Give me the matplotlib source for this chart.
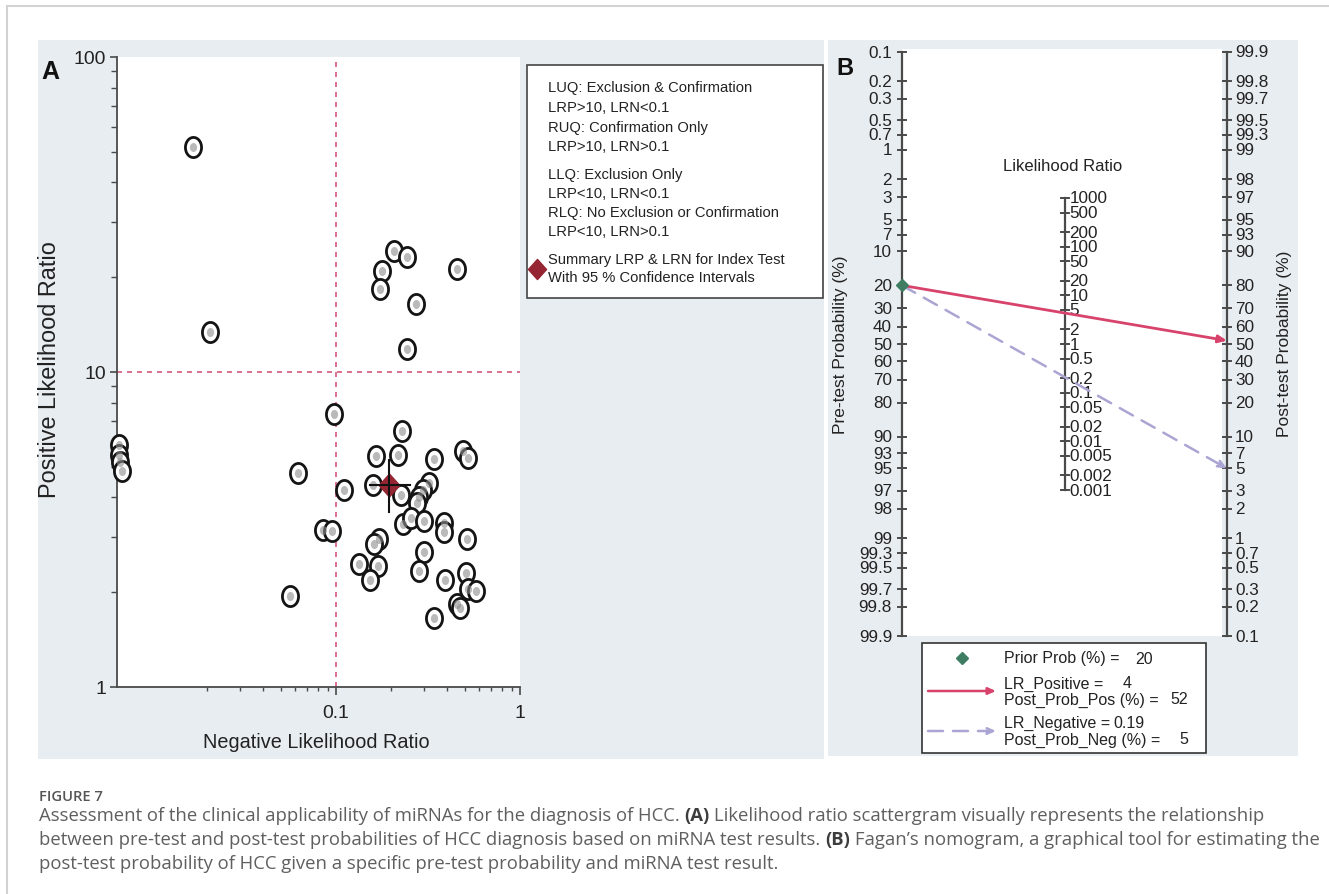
import numpy as np
import matplotlib
matplotlib.use("Agg")
import matplotlib.pyplot as plt
from matplotlib.path import Path
from matplotlib.patches import Rectangle
from matplotlib.ticker import NullFormatter
from matplotlib import font_manager as fm

# ---------------- data ----------------
# Panel A: study-level likelihood ratios
negative_lr = [0.0168, 0.0207, 0.207, 0.242, 0.177, 0.173, 0.453, 0.272, 0.244,
               0.098, 0.0624, 0.111, 0.229, 0.164, 0.216, 0.342, 0.488, 0.524,
               0.158, 0.225, 0.320, 0.298, 0.284, 0.277, 0.0853, 0.0955, 0.232,
               0.256, 0.301, 0.386, 0.386, 0.513, 0.172, 0.160, 0.302, 0.134,
               0.170, 0.153, 0.284, 0.391, 0.509, 0.524, 0.577, 0.456, 0.472,
               0.341, 0.0562, 0.00664, 0.00664, 0.00670, 0.00685]
positive_lr = [51.7, 13.4, 24.2, 23.2, 20.9, 18.4, 21.2, 16.4, 11.8,
               7.36, 4.77, 4.23, 6.48, 5.43, 5.45, 5.29, 5.63, 5.33,
               4.38, 4.08, 4.44, 4.22, 4.02, 3.84, 3.16, 3.13, 3.28,
               3.43, 3.37, 3.31, 3.11, 2.95, 2.95, 2.84, 2.68, 2.45,
               2.43, 2.19, 2.34, 2.19, 2.30, 2.04, 2.02, 1.83, 1.78,
               1.66, 1.95, 5.87, 5.45, 5.18, 4.86]
summary_lrn = 0.194
summary_lrn_ci = [0.153, 0.252]
summary_lrp = 4.38
summary_lrp_ci = [3.60, 5.27]
quadrant_text = ["LUQ: Exclusion & Confirmation", "LRP>10, LRN<0.1",
                 "RUQ: Confirmation Only", "LRP>10, LRN>0.1",
                 "LLQ: Exclusion Only", "LRP<10, LRN<0.1",
                 "RLQ: No Exclusion or Confirmation", "LRP<10, LRN>0.1",
                 "Summary LRP & LRN for Index Test", "With 95 % Confidence Intervals"]
a_xticks = [0.1, 1]
a_xticklabels = ["0.1", "1"]
a_yticks = [1, 10, 100]
a_yticklabels = ["1", "10", "100"]

# Panel B: Fagan nomogram
prior_prob = 20
lr_positive = 4
post_prob_pos = 52
lr_negative = 0.19
post_prob_neg = 5
prob_ticks = [0.1, 0.2, 0.3, 0.5, 0.7, 1, 2, 3, 5, 7, 10, 20, 30, 40, 50, 60, 70,
              80, 90, 93, 95, 97, 98, 99, 99.3, 99.5, 99.7, 99.8, 99.9]
lr_ticks = [1000, 500, 200, 100, 50, 20, 10, 5, 2, 1, 0.5, 0.2, 0.1, 0.05, 0.02,
            0.01, 0.005, 0.002, 0.001]

caption_title = "FIGURE 7"
caption_lines = [
    [("Assessment of the clinical applicability of miRNAs for the diagnosis of HCC.", "normal"),
     ("(A)", "bold"),
     ("Likelihood ratio scattergram visually represents the relationship", "normal")],
    [("between pre-test and post-test probabilities of HCC diagnosis based on miRNA test results.", "normal"),
     ("(B)", "bold"),
     ("Fagan\u2019s nomogram, a graphical tool for estimating the", "normal")],
    [("post-test probability of HCC given a specific pre-test probability and miRNA test result.", "normal")],
]

# ---------------- fonts ----------------
def has_font(name):
    try:
        fm.findfont(fm.FontProperties(family=name), fallback_to_default=False)
        return True
    except Exception:
        return False

if has_font("Liberation Sans Narrow"):
    NARROW, NK = "Liberation Sans Narrow", 1.0
else:
    NARROW, NK = "Liberation Sans", 0.82
SANS = "Liberation Sans"
CAP = "Open Sans" if has_font("Open Sans") else "DejaVu Sans"

W, H = 1329, 895
fig = plt.figure(figsize=(W / 100, H / 100), dpi=100, facecolor="white")
renderer = fig.canvas.get_renderer()

BG = "#e8edf1"
DARK = "#222222"
AXC = "#4a4a4a"

# background overlay (pixel coordinates, y downwards)
bg = fig.add_axes([0, 0, 1, 1], zorder=-10)
bg.set_xlim(0, W); bg.set_ylim(H, 0); bg.axis("off")
bg.plot([7, W], [7, 7], color="#d2d2d2", lw=1.5)
bg.plot([7, 7], [7, H], color="#d2d2d2", lw=1.5)
bg.add_patch(Rectangle((38, 41), 786, 719, color=BG, lw=0))
bg.add_patch(Rectangle((828, 41), 470, 716, color=BG, lw=0))
bg.add_patch(Rectangle((902, 50), 320, 587, color="white", lw=0))

# foreground overlay
fg = fig.add_axes([0, 0, 1, 1], zorder=10)
fg.set_xlim(0, W); fg.set_ylim(H, 0); fg.axis("off")

# ---------------- Panel A ----------------
axA = fig.add_axes([117 / W, 1 - 688 / H, 403 / W, 630 / H])
axA.set_facecolor("white")
axA.set_xscale("log"); axA.set_yscale("log")
axA.set_xlim(10 ** ((117 - 520) / 184), 1)
axA.set_ylim(1, 100)
for s in ("top", "right"):
    axA.spines[s].set_visible(False)
for s in ("left", "bottom"):
    axA.spines[s].set_color(AXC); axA.spines[s].set_linewidth(1.3)

tick_fs = 17 * NK
axA.set_xticks(a_xticks, labels=a_xticklabels, fontfamily=NARROW, fontsize=tick_fs, color=DARK)
axA.set_yticks(a_yticks, labels=a_yticklabels, fontfamily=NARROW, fontsize=tick_fs, color=DARK)
axA.set_xticks([m * d for d in (0.01, 0.1) for m in range(2, 10)], minor=True)
axA.set_yticks([m * d for d in (1, 10) for m in range(2, 10)], minor=True)
axA.xaxis.set_minor_formatter(NullFormatter()); axA.yaxis.set_minor_formatter(NullFormatter())
axA.tick_params(axis="x", which="major", length=6, width=1.2, color=AXC, pad=6)
axA.tick_params(axis="x", which="minor", length=3, width=1.0, color=AXC)
axA.tick_params(axis="y", which="major", length=5, width=1.2, color=AXC, pad=3)
axA.tick_params(axis="y", which="minor", length=4, width=1.0, color=AXC)

dash_col = "#d4587c"
axA.axvline(0.1, color=dash_col, lw=1.2, ls=(0, (3, 3)), zorder=1)
axA.axhline(10, color=dash_col, lw=1.2, ls=(0, (3, 3)), zorder=1)

th = np.linspace(0, 2 * np.pi, 61)
ell_verts = np.column_stack([0.8 * np.cos(th), np.sin(th)])
ell_codes = [Path.MOVETO] + [Path.LINETO] * 59 + [Path.CLOSEPOLY]
ellipse = Path(ell_verts, ell_codes)
diamond = Path([(0, 1), (0.9, 0), (0, -1), (-0.9, 0), (0, 1)],
               [Path.MOVETO, Path.LINETO, Path.LINETO, Path.LINETO, Path.CLOSEPOLY])

axA.plot(negative_lr, positive_lr, ls="none", marker=ellipse, ms=14.5, mfc="white",
         mec="#141414", mew=2.0, clip_on=False, zorder=3)
axA.plot(negative_lr, positive_lr, ls="none", marker=ellipse, ms=6.5, mfc="#8c8c8c",
         mec="none", alpha=0.6, clip_on=False, zorder=4)

axA.plot([summary_lrn], [summary_lrp], ls="none", marker=diamond, ms=16.5,
         color="#962533", zorder=5)
axA.plot(summary_lrn_ci, [summary_lrp, summary_lrp], color="#111111", lw=1.5, zorder=6)
axA.plot([summary_lrn, summary_lrn], summary_lrp_ci, color="#111111", lw=1.5, zorder=6)

fg.text(50, 72, "A", fontsize=18, fontweight="bold", family=SANS, ha="center", va="center", color="#111111")
fg.text(316, 743, "Negative Likelihood Ratio", fontsize=17.4 * NK, family=NARROW,
        ha="center", va="center", color=DARK)
fg.text(50, 370, "Positive Likelihood Ratio", fontsize=16.9, family=SANS, rotation=90,
        ha="center", va="center", color=DARK)

# legend box of panel A
fg.add_patch(Rectangle((527, 66), 296, 233, fc="white", ec="#444444", lw=1.2))
leg_y = [88, 108, 128, 147, 175, 194, 213, 232, 260, 278]
for yy, txt in zip(leg_y, quadrant_text):
    fg.text(548, yy, txt, fontsize=13 * NK, family=NARROW, ha="left", va="center", color="#222222")
fg.plot([537], [270], ls="none", marker=diamond, ms=14.5, color="#962533")

# ---------------- Panel B ----------------
def logit(p):
    return np.log(p / (1 - p))

L = np.log(999.0)
axB = fig.add_axes([902 / W, 1 - 637 / H, 325 / W, 584 / H])
axB.set_xlim(0, 1); axB.set_ylim(-L, L); axB.axis("off")
dx = 4 / 325
lab_kw = dict(fontsize=12.3, family=SANS, color=DARK, va="center")

axB.plot([0, 0], [-L, L], color=AXC, lw=1.6, clip_on=False)
axB.plot([1, 1], [-L, L], color=AXC, lw=1.6, clip_on=False)
for p in prob_ticks:
    zl = -logit(p / 100)
    axB.plot([-dx, dx], [zl, zl], color=AXC, lw=1.4, clip_on=False)
    axB.text(-10 / 325, zl, "%g" % p, ha="right", **lab_kw)
    zr = logit(p / 100)
    axB.plot([1 - dx, 1 + dx], [zr, zr], color=AXC, lw=1.4, clip_on=False)
    axB.text(1 + 8 / 325, zr, "%g" % p, ha="left", **lab_kw)

zc = [np.log(v) / 2 for v in lr_ticks]
axB.plot([0.5, 0.5], [min(zc), max(zc)], color=AXC, lw=1.6, clip_on=False)
for v, z in zip(lr_ticks, zc):
    axB.plot([0.5 - dx, 0.5 + dx], [z, z], color=AXC, lw=1.4, clip_on=False)
    axB.text(0.5 + 5 / 325, z, "%g" % v, ha="left", **lab_kw)

pos_col = "#d8436b"
neg_col = "#aaa5d2"
zpre = -logit(prior_prob / 100)
zpos = logit(post_prob_pos / 100)
zneg = logit(post_prob_neg / 100)
axB.annotate("", xy=(1, zneg), xytext=(0, zpre), annotation_clip=False,
             arrowprops=dict(arrowstyle="-|>,head_length=0.5,head_width=0.22", color=neg_col,
                             lw=1.8, ls=(0, (6, 4)), shrinkA=0, shrinkB=0))
axB.annotate("", xy=(1, zpos), xytext=(0, zpre), annotation_clip=False,
             arrowprops=dict(arrowstyle="-|>,head_length=0.5,head_width=0.22", color=pos_col,
                             lw=2.0, shrinkA=0, shrinkB=0))
axB.plot([0], [zpre], ls="none", marker="D", ms=6, color="#3e7d62", clip_on=False, zorder=5)

fg.text(845, 68, "B", fontsize=17, fontweight="bold", family=SANS, ha="center", va="center", color="#111111")
fg.text(1063, 166, "Likelihood Ratio", fontsize=12, family=SANS, ha="center", va="center", color=DARK)
fg.text(840, 345, "Pre-test Probability (%)", fontsize=12.5, family=SANS, rotation=90,
        ha="center", va="center", color=DARK)
fg.text(1284, 344, "Post-test Probability (%)", fontsize=12.5, family=SANS, rotation=90,
        ha="center", va="center", color=DARK)

# legend box of panel B
fg.add_patch(Rectangle((922, 644), 284, 110, fc="white", ec="#333333", lw=1.2))
fg.plot([962], [659], ls="none", marker="D", ms=6, color="#3e7d62")
fg.annotate("", xy=(996, 692), xytext=(928, 692),
            arrowprops=dict(arrowstyle="-|>,head_length=0.45,head_width=0.2", color=pos_col,
                            lw=1.8, shrinkA=0, shrinkB=0))
fg.annotate("", xy=(996, 732), xytext=(928, 732),
            arrowprops=dict(arrowstyle="-|>,head_length=0.45,head_width=0.2", color=neg_col,
                            lw=1.8, ls=(0, (6, 4)), shrinkA=0, shrinkB=0))
leg_kw = dict(fontsize=11.5, family=SANS, color="#222222", va="center")
fg.text(1004, 659, "Prior Prob (%) =", ha="left", **leg_kw)
fg.text(1153, 659, "%g" % prior_prob, ha="right", **leg_kw)
fg.text(1004, 684, "LR_Positive =", ha="left", **leg_kw)
fg.text(1132, 684, "%g" % lr_positive, ha="right", **leg_kw)
fg.text(1004, 700, "Post_Prob_Pos (%) =", ha="left", **leg_kw)
fg.text(1188, 700, "%g" % post_prob_pos, ha="right", **leg_kw)
fg.text(1004, 723, "LR_Negative =", ha="left", **leg_kw)
fg.text(1145, 723, "%g" % lr_negative, ha="right", **leg_kw)
fg.text(1004, 740, "Post_Prob_Neg (%) =", ha="left", **leg_kw)
fg.text(1188, 740, "%g" % post_prob_neg, ha="right", **leg_kw)

# ---------------- caption ----------------
def text_width(s, size, weight):
    t = fig.text(0, 0, s, fontsize=size, family=CAP, fontweight=weight)
    w = t.get_window_extent(renderer).width
    t.remove()
    return w

def line_width(runs, size):
    sp = text_width("a a", size, "normal") - text_width("aa", size, "normal")
    return sum(text_width(s, size, wt) for s, wt in runs) + sp * (len(runs) - 1)

base = 12.0
cap_size = min(base * 1258 / line_width(caption_lines[0], base),
               base * 1272 / line_width(caption_lines[1], base))
space_w = text_width("a a", cap_size, "normal") - text_width("aa", cap_size, "normal")
for yy, runs in zip([816, 840, 864], caption_lines):
    x = 39
    for s, wt in runs:
        col = "#3d3d3d" if wt == "bold" else "#5f5f5f"
        fg.text(x, yy, s, fontsize=cap_size, family=CAP, fontweight=wt, color=col,
                ha="left", va="center")
        x += text_width(s, cap_size, wt) + space_w

title_size = 10.0 * 64 / text_width(caption_title, 10.0, "semibold")
fg.text(39, 797, caption_title, fontsize=title_size, family=CAP, fontweight="semibold",
        color="#555555", ha="left", va="center")

fig.savefig("out.png", dpi=100, facecolor="white")
